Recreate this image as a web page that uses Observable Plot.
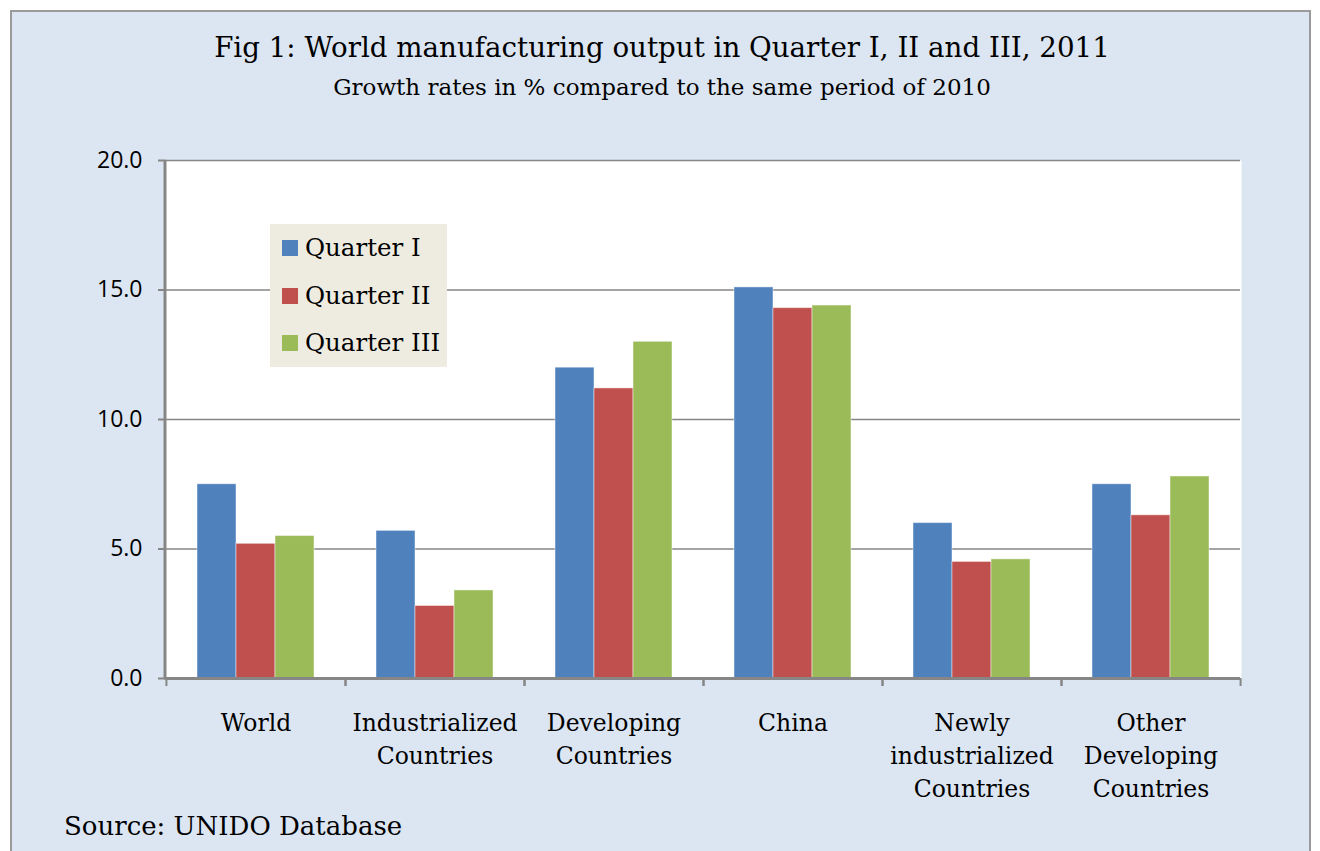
<!DOCTYPE html>
<html>
<head>
<meta charset="utf-8">
<script src="https://cdn.jsdelivr.net/npm/d3@7"></script>
<script src="https://cdn.jsdelivr.net/npm/@observablehq/plot@0.6"></script>
<style>
  html, body { margin: 0; padding: 0; background: #ffffff; }
  body { width: 1320px; height: 851px; position: relative; overflow: hidden; }
  #frame { position: absolute; left: 10px; top: 10px; width: 1301px; height: 860px;
           background: #dce6f2; border: 2px solid #9a9a9a; box-sizing: border-box; }
  .serif { font-family: "DejaVu Serif", "Liberation Serif", serif; color: #000; }
  #title { position: absolute; left: 0; width: 1324px; top: 31px; text-align: center; font-size: 27.7px; }
  #subtitle { position: absolute; left: 0; width: 1324px; top: 74px; text-align: center; font-size: 23px; }
  #chart { position: absolute; left: 0; top: 140px; }
  #legend { position: absolute; left: 270px; top: 224px; width: 177px; height: 143px; background: #eeece1; }
  .item { position: absolute; left: 12px; font-size: 24.5px; line-height: 30px; white-space: nowrap; }
  .sw { display: inline-block; width: 16px; height: 16px; margin-right: 7px; vertical-align: 0px; }
  #source { position: absolute; left: 64px; top: 811px; font-size: 26px; }
</style>
</head>
<body>
<div id="frame"></div>
<div id="title" class="serif">Fig 1: World manufacturing output in Quarter I, II and III, 2011</div>
<div id="subtitle" class="serif">Growth rates in % compared to the same period of 2010</div>
<div id="chart"></div>
<div id="legend" class="serif"></div>
<div id="source" class="serif">Source: UNIDO Database</div>
<script>
const categories = ["World", "Industrialized Countries", "Developing Countries", "China", "Newly industrialized Countries", "Other Developing Countries"];
const categoryLabels = ["World", "Industrialized\nCountries", "Developing\nCountries", "China", "Newly\nindustrialized\nCountries", "Other\nDeveloping\nCountries"];
const quarters = ["Quarter I", "Quarter II", "Quarter III"];
const quarterI = [7.5, 5.7, 12.0, 15.1, 6.0, 7.5];
const quarterII = [5.2, 2.8, 11.2, 14.3, 4.5, 6.3];
const quarterIII = [5.5, 3.4, 13.0, 14.4, 4.6, 7.8];
const yTicks = [0, 5, 10, 15, 20];
const colors = ["#4f81bd", "#c0504d", "#9bbb59"];

const series = [quarterI, quarterII, quarterIII];
const data = [];
categories.forEach((c, i) => quarters.forEach((q, j) => data.push({category: c, quarter: q, value: series[j][i]})));
const labelOf = new Map(categories.map((c, i) => [c, categoryLabels[i]]));

const W = 1320, ML = 165, MR = 80, MT = 20, MB = 150, PH = 518;
const facetW = (W - ML - MR) / categories.length;
const axisColor = "#868686";
const serif = "DejaVu Serif";

const plot = Plot.plot({
  width: W,
  height: MT + PH + MB,
  marginLeft: ML, marginRight: MR, marginTop: MT, marginBottom: MB,
  style: {background: "transparent", overflow: "visible"},
  fx: {domain: categories, padding: 0},
  x: {domain: quarters, paddingInner: 0, paddingOuter: 0.755, axis: null},
  y: {domain: [0, 20]},
  color: {domain: quarters, range: colors},
  marks: [
    Plot.frame({fill: "white", stroke: null, insetLeft: -1, insetRight: -1}),
    Plot.gridY(yTicks, {stroke: axisColor, strokeOpacity: 1, strokeWidth: 1.6}),
    Plot.barY(data, {fx: "category", x: "quarter", y: "value", fill: "quarter", stroke: "white", strokeOpacity: 0.45, strokeWidth: 1}),
    Plot.ruleY([0], {stroke: axisColor, strokeWidth: 3}),
    Plot.axisY(yTicks, {
      tickSize: 8, tickPadding: 16, stroke: axisColor, strokeWidth: 2,
      tickFormat: d => d.toFixed(1), fontSize: 23, fontFamily: "Open Sans", fill: "#000", label: null
    }),
    Plot.axisFx({anchor: "bottom", text: null, tickSize: 8, dx: -facetW / 2, stroke: axisColor, strokeWidth: 2, label: null}),
    Plot.axisFx([categories[categories.length - 1]], {anchor: "bottom", text: null, tickSize: 8, dx: facetW / 2, stroke: axisColor, strokeWidth: 2, label: null}),
    Plot.axisFx({
      anchor: "bottom", tickSize: 0, tickPadding: 29, fontSize: 23.5, lineHeight: 1.4,
      fontFamily: serif, fill: "#000", label: null,
      tickFormat: d => labelOf.get(d)
    })
  ]
});
document.getElementById("chart").appendChild(plot);

// y-axis line along the left edge of the plot area
const ySc = plot.scale("y");
d3.select(plot).append("line")
  .attr("x1", ML).attr("x2", ML)
  .attr("y1", ySc.apply(20)).attr("y2", ySc.apply(0) + 1.5)
  .attr("stroke", axisColor).attr("stroke-width", 3);

const legend = document.getElementById("legend");
quarters.forEach((q, i) => {
  const div = document.createElement("div");
  div.className = "item";
  div.style.top = (9 + i * 47.5) + "px";
  div.innerHTML = `<span class="sw" style="background:${colors[i]}"></span>${q}`;
  legend.appendChild(div);
});
</script>
</body>
</html>
